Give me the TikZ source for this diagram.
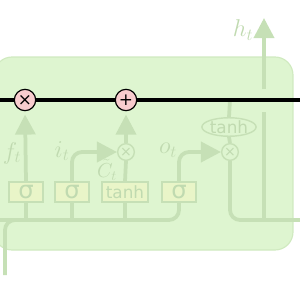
\documentclass[tikz,border=0pt]{standalone}
\usepackage{fontspec}
\setsansfont{DejaVu Sans}
\usetikzlibrary{arrows.meta,positioning,shapes.geometric}
\definecolor{cellfill}{RGB}{222,245,208}
\definecolor{celledge}{RGB}{208,234,192}
\definecolor{faded}{RGB}{198,224,182}
\definecolor{gatefill}{RGB}{233,245,200}
\definecolor{fadedtext}{RGB}{192,218,176}
\definecolor{opfill}{RGB}{248,204,206}
\tikzset{
gate/.style={draw=faded,fill=gatefill,line width=1.2pt,minimum width=10.2mm,minimum height=6mm,inner sep=0pt,text=fadedtext,font=\sffamily\Large},
pointop/.style={draw=faded,fill=cellfill,circle,line width=1.2pt,minimum size=5mm,inner sep=0pt,text=fadedtext,font=\sffamily\large},
actop/.style={draw=faded,fill=cellfill,ellipse,line width=1.2pt,minimum width=12mm,minimum height=4.8mm,inner sep=0pt,text=fadedtext,font=\sffamily\Large},
cellop/.style={draw=black,fill=opfill,circle,line width=1pt,minimum size=6.4mm,inner sep=0pt,font=\sffamily\Large},
wire/.style={faded,line width=3.2pt,rounded corners=3mm},
wirearrow/.style={wire,-{Triangle[length=6mm,width=6mm]}},
wirelabel/.style={text=fadedtext,inner sep=0pt,font=\huge},
cellstate/.style={black,line width=3pt}
}
\begin{document}
\begin{tikzpicture}[x=0.3mm,y=-0.3mm]
\useasboundingbox (0,0) rectangle (300,300);
% cell body
\fill[cellfill,draw=celledge,line width=1pt,rounded corners=5.4mm] (-6,57) rectangle (293,250);
% gates
\node[gate,font=\sffamily\huge](fg) at (26,192){σ};
\node[gate,font=\sffamily\huge](ig) at (72,192){σ};
\node[gate,minimum width=13.8mm](tg) at (125,192){tanh};
\node[gate,font=\sffamily\huge](og) at (179,192){σ};
\node[pointop](imul) at (126,152){×};
\node[pointop](omul) at (230,152){×};
\node[actop](tanhc) at (229,127){tanh};
\coordinate (xin) at (5,275);
\coordinate (hin) at (0,220);
\coordinate (hout) at (300,220);
\coordinate (hbranch) at (264,220);
\coordinate (hcut) at (264,112);
\coordinate (hresume) at (264,89);
\coordinate (htip) at (264,18);
\coordinate (cin) at (0,100);
\coordinate (cout) at (300,100);
% wires
\draw[wire](hin)-|(og.south);
\draw[wire](xin)|-(60,220);
\draw[wire](fg.south)--(fg.south|-hin);
\draw[wire](ig.south)--(ig.south|-hin);
\draw[wire](tg.south)--(tg.south|-hin);
\draw[wire](tg.north)--(imul.south);
\draw[wire](omul.north|-cin)--(tanhc.north);
\draw[wire](tanhc.south)--(omul.north);
\draw[wire](omul.south)|-(hout);
\draw[wire](hbranch)--(hcut);
\draw[wirearrow](hresume)--(htip);
\draw[wirearrow](ig.north)|-(imul.west);
\draw[wirearrow](og.north)|-(omul.west);
% labels
\node[wirelabel] at (12,153){$f_t$};
\node[wirelabel] at (62,151){$i_t$};
\node[wirelabel,font=\LARGE] at (107,170){$\tilde{C}_t$};
\node[wirelabel] at (168,150){$o_t$};
\node[wirelabel] at (243,30){$h_t$};
% cell state
\node[cellop](fmul) at (25,100){×};
\node[cellop](addop) at (126,100){+};
\draw[wirearrow,shorten >=1mm](fg.north)--(fmul.south);
\draw[wirearrow,shorten >=1mm](imul.north)--(addop.south);
\draw[cellstate](cin)--(fmul.west) (fmul.east)--(addop.west) (addop.east)--(cout);
\end{tikzpicture}
\end{document}
